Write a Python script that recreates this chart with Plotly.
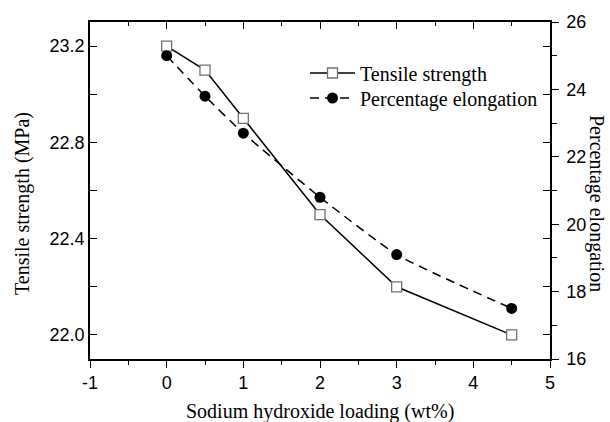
import plotly.graph_objects as go

loading = [0, 0.5, 1, 2, 3, 4.5]
tensile = [23.2, 23.1, 22.9, 22.5, 22.2, 22.0]
elongation = [25.0, 23.8, 22.7, 20.8, 19.1, 17.5]

x_ticks = [-1, 0, 1, 2, 3, 4, 5]
x_ticktext = ["-1", "0", "1", "2", "3", "4", "5"]

serif = "Times New Roman, Liberation Serif, serif"
sans = "Liberation Sans"

fig = go.Figure()
fig.add_trace(go.Scatter(
    x=loading, y=tensile, name="Tensile strength", mode="lines+markers",
    line=dict(color="black", width=1.5),
    marker=dict(symbol="square", size=10, color="white",
                line=dict(color="#707070", width=1.3)),
    xaxis="x", yaxis="y", legend="legend"))
fig.add_trace(go.Scatter(
    x=loading, y=elongation, name="Percentage elongation", mode="lines+markers",
    line=dict(color="black", width=1.5, dash="9px,6px", shape="spline", smoothing=0.5),
    marker=dict(symbol="circle", size=11, color="black"),
    xaxis="x", yaxis="y2", legend="legend2"))
# empty trace to carry the mirrored (inside-tick) axes
fig.add_trace(go.Scatter(x=[], y=[], xaxis="x2", yaxis="y3", showlegend=False, hoverinfo="skip"))

axis_common = dict(showgrid=False, zeroline=False, showline=True, linecolor="black",
                   linewidth=1.5, tickcolor="black", tickwidth=1.3, automargin=False)

legend_common = dict(xanchor="left", yanchor="middle", itemwidth=45,
                     font=dict(family=serif, size=20, color="black"),
                     bgcolor="rgba(0,0,0,0)")

title_font = dict(family=serif, size=20, color="black")

fig.update_layout(
    width=610, height=422,
    margin=dict(l=90, r=60, t=22, b=63),
    paper_bgcolor="white", plot_bgcolor="white",
    showlegend=True,
    legend=dict(x=(305 - 90) / 460, y=(359 - 73) / 337, **legend_common),
    legend2=dict(x=(305 - 90) / 460, y=(359 - 98) / 337, **legend_common),
    xaxis=dict(range=[-1, 5], tickvals=x_ticks, ticktext=x_ticktext, ticks="outside", ticklen=7,
               minor=dict(dtick=0.5, ticks="outside", ticklen=4, tickcolor="black", tickwidth=1.3),
               tickfont=dict(family=sans, size=18, color="black"), anchor="y",
               **axis_common),
    xaxis2=dict(range=[-1, 5], dtick=1, tick0=-1, ticks="inside", ticklen=7,
                minor=dict(dtick=0.5, ticks="inside", ticklen=4, tickcolor="black", tickwidth=1.3),
                showticklabels=False, side="top", overlaying="x", anchor="y3",
                **axis_common),
    yaxis=dict(range=[21.9, 23.3], dtick=0.4, tick0=22.0, tickformat=".1f",
               ticks="inside", ticklen=7,
               minor=dict(dtick=0.2, tick0=22.0, ticks="inside", ticklen=7, tickcolor="black", tickwidth=1.3),
               tickfont=dict(family=sans, size=18, color="black"), anchor="x",
               **axis_common),
    yaxis2=dict(range=[16, 26], dtick=2, tick0=16, ticks="outside", ticklen=7,
                minor=dict(dtick=1, ticks="outside", ticklen=5, tickcolor="black", tickwidth=1.3),
                tickfont=dict(family=sans, size=18, color="black"), ticklabelstandoff=4,
                side="right", overlaying="y", anchor="x", **axis_common),
    yaxis3=dict(range=[21.9, 23.3], dtick=0.4, tick0=22.0, ticks="inside", ticklen=7,
                minor=dict(dtick=0.2, tick0=22.0, ticks="inside", ticklen=7, tickcolor="black", tickwidth=1.3),
                showticklabels=False, side="right", overlaying="y", anchor="x2",
                **axis_common),
    annotations=[
        dict(text="Sodium hydroxide loading (wt%)", xref="paper", yref="paper",
             x=0.5, y=(359 - 411) / 337, xanchor="center", yanchor="middle",
             showarrow=False, font=title_font),
        dict(text="Tensile strength (MPa)", xref="paper", yref="paper",
             x=(22 - 90) / 460, y=(359 - 204) / 337, xanchor="center", yanchor="middle",
             textangle=-90, showarrow=False, font=title_font),
        dict(text="Percentage elongation", xref="paper", yref="paper",
             x=(597 - 90) / 460, y=(359 - 203) / 337, xanchor="center", yanchor="middle",
             textangle=90, showarrow=False, font=title_font),
    ],
)

fig.write_html("out.html")
